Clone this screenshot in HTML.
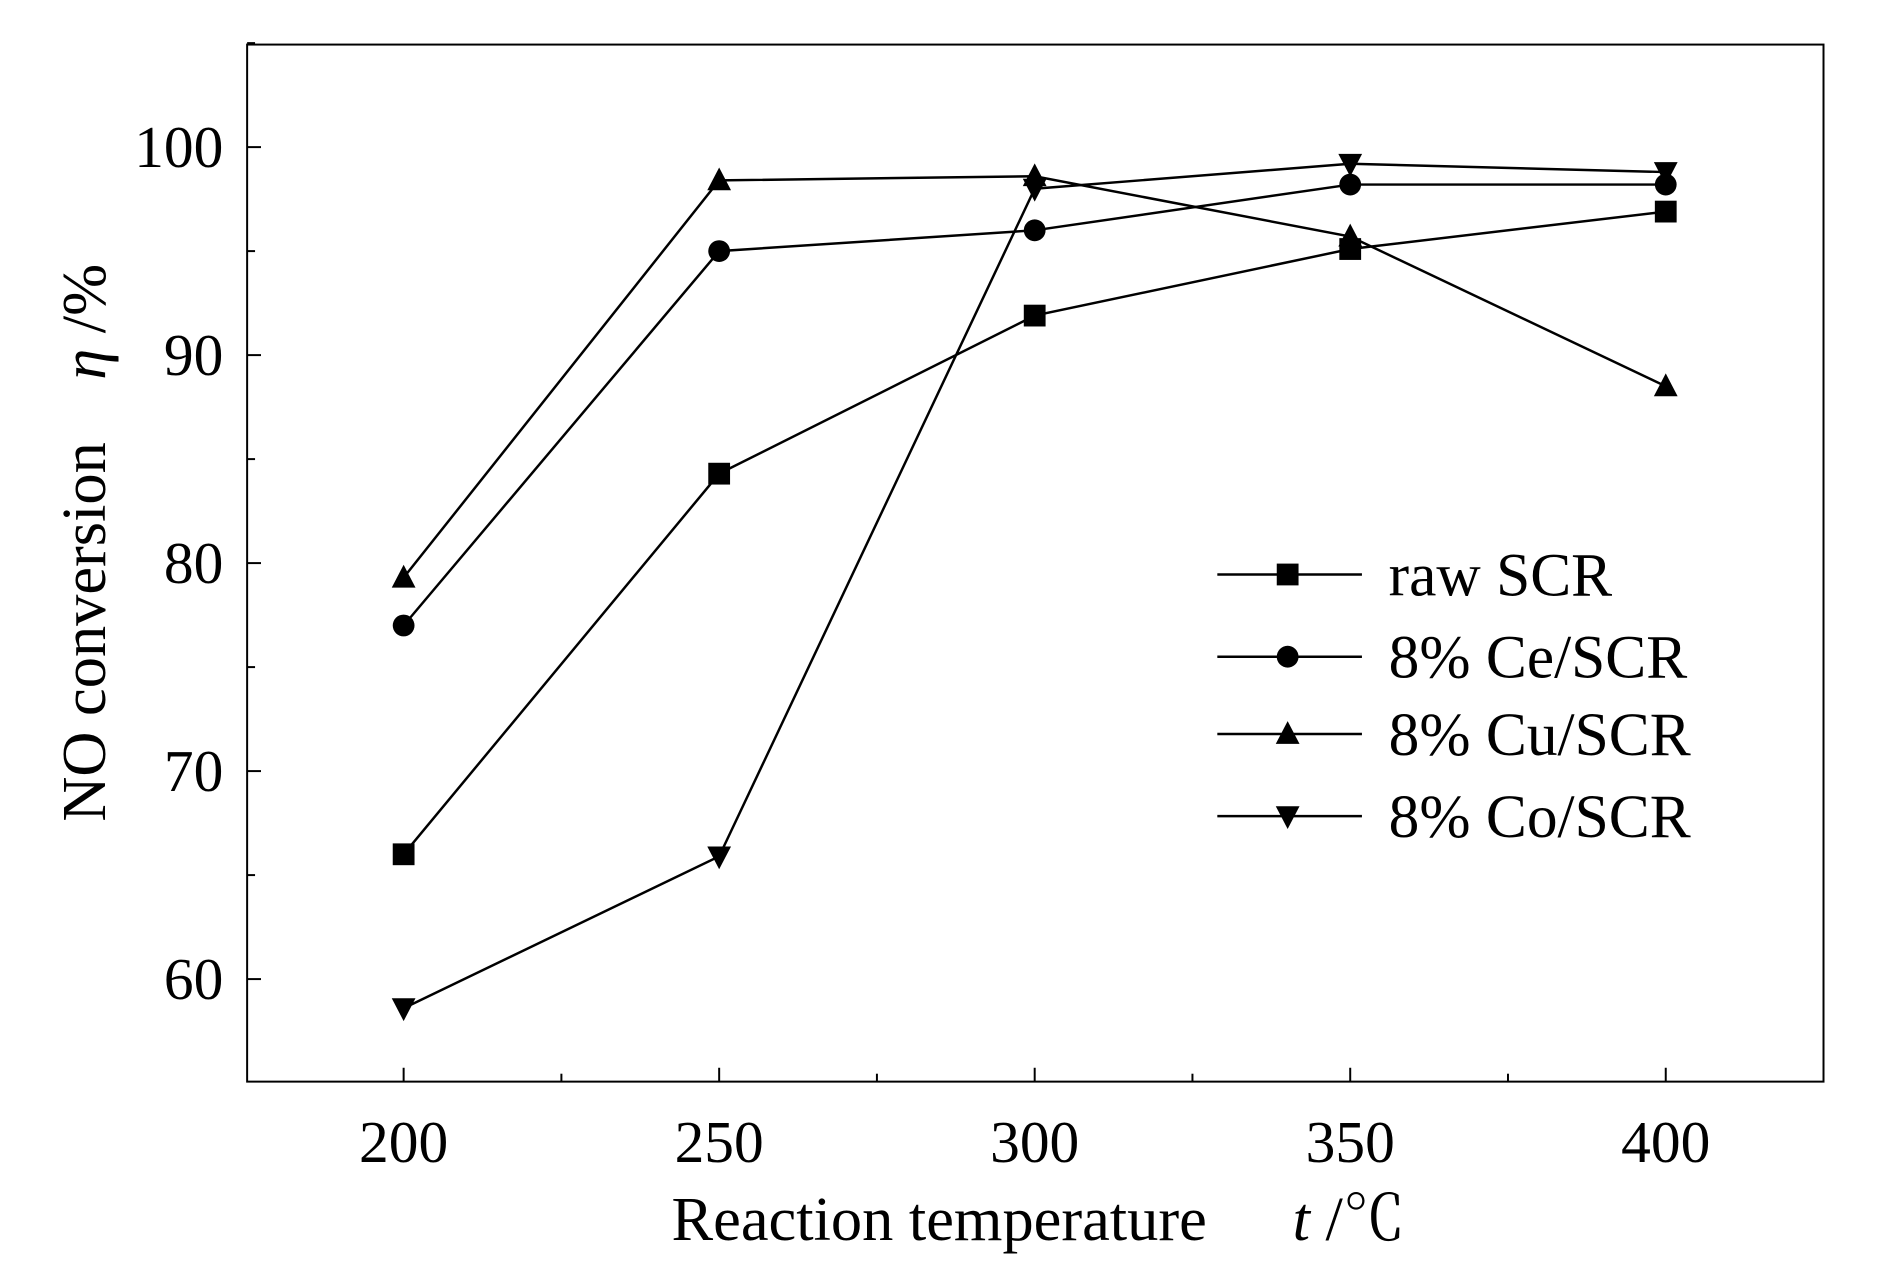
<!DOCTYPE html>
<html><head><meta charset="utf-8"><style>
html,body{margin:0;padding:0;background:#fff;}
svg{display:block;font-family:"Liberation Serif","Noto Serif CJK SC",serif;}
</style></head><body>
<svg id="chart" width="1890" height="1276" viewBox="0 0 1890 1276" xmlns="http://www.w3.org/2000/svg">
<g transform="scale(0.9905)">
<rect x="249.5" y="45" width="1591.5" height="1047" fill="none" stroke="#000" stroke-width="2"/>
<g id="ticks"></g>
<g id="series"></g>
<g id="legend"></g>
<text x="678" y="1252" font-size="63">Reaction temperature</text>
<text x="1305" y="1252" font-size="63"><tspan font-style="italic">t</tspan> /℃</text>
<text transform="translate(106,548) rotate(-90)" text-anchor="middle" font-size="63" xml:space="preserve">NO conversion    <tspan font-style="italic">η</tspan> /%</text>
</g>
</svg>
<script>
const categories = [200, 250, 300, 350, 400];
const seriesNames = ["raw SCR", "8% Ce/SCR", "8% Cu/SCR", "8% Co/SCR"];
const rawSCR = [66.0, 84.3, 91.9, 95.1, 96.9];
const ceSCR = [77.0, 95.0, 96.0, 98.2, 98.2];
const cuSCR = [79.3, 98.4, 98.6, 95.7, 88.5];
const coSCR = [58.6, 65.9, 98.0, 99.2, 98.8];
const yTicks = [60, 70, 80, 90, 100];
const xTicks = [200, 250, 300, 350, 400];

const NS = "http://www.w3.org/2000/svg";
const L = 249.5, R = 1841, T = 45, B = 1092;
const xMin = 175.2, xMax = 425, yMin = 55.07, yMax = 104.93;
function xs(v){return L + (v - xMin) / (xMax - xMin) * (R - L);}
function ys(v){return B - (v - yMin) / (yMax - yMin) * (B - T);}
function mk(tag, attrs, parent){const e=document.createElementNS(NS,tag);for(const k in attrs)e.setAttribute(k,attrs[k]);parent.appendChild(e);return e;}

const tg = document.getElementById("ticks");
yTicks.forEach(v=>{
  const y=ys(v);
  const t=mk("line",{x1:L,x2:L+14,y1:y,y2:y,stroke:"#000","stroke-width":2},tg);
  
  
  const m=mk("line",{x1:L,x2:L+8,y1:ys(v+5),y2:ys(v+5),stroke:"#000","stroke-width":2},tg);
  
  
  const lb=mk("text",{x:L-24,y:y+20,"text-anchor":"end","font-size":60},tg);
  lb.textContent=v;
  
  
});
xTicks.forEach((v,i)=>{
  const x=xs(v);
  const t=mk("line",{x1:x,x2:x,y1:B,y2:B-14,stroke:"#000","stroke-width":2},tg);
  
  
  if(i<xTicks.length-1){
    const m=mk("line",{x1:xs(v+25),x2:xs(v+25),y1:B,y2:B-8,stroke:"#000","stroke-width":2},tg);
    
    
  }
  const lb=mk("text",{x:x,y:1173,"text-anchor":"middle","font-size":60},tg);
  lb.textContent=v;
  
  
});

function marker(type,x,y,parent){
  const s=11;let e;
  if(type==="square") e=mk("rect",{x:x-s,y:y-s,width:2*s,height:2*s,fill:"#000"},parent);
  else if(type==="circle") e=mk("circle",{cx:x,cy:y,r:s,fill:"#000"},parent);
  else if(type==="up") e=mk("polygon",{points:`${x},${y-s-2} ${x-s-1},${y+s-1} ${x+s+1},${y+s-1}`,fill:"#000"},parent);
  else e=mk("polygon",{points:`${x},${y+s+2} ${x-s-1},${y-s+1} ${x+s+1},${y-s+1}`,fill:"#000"},parent);
  return e;
}
const allSeries=[rawSCR,ceSCR,cuSCR,coSCR];
const types=["square","circle","up","down"];
const keys=["raw-scr","ce-scr","cu-scr","co-scr"];
const sg=document.getElementById("series");
allSeries.forEach((vals,si)=>{
  const pts=vals.map((v,i)=>xs(categories[i])+","+ys(v)).join(" ");
  const pl=mk("polyline",{points:pts,fill:"none",stroke:"#000","stroke-width":2.5},sg);
  
  
  vals.forEach((v,i)=>{
    const m=marker(types[si],xs(categories[i]),ys(v),sg);
    
    
  });
});
const lg=document.getElementById("legend");
const rowsY=[580,663,741,824];
seriesNames.forEach((n,i)=>{
  const y=rowsY[i];
  const ln=mk("line",{x1:1229,x2:1375,y1:y,y2:y,stroke:"#000","stroke-width":2.5},lg);
  
  
  const m=marker(types[i],1300,y,lg);
  
  
  const t=mk("text",{x:1402,y:y+21,"font-size":62},lg);
  t.textContent=n;
  
  
});
</script>
</body></html>
